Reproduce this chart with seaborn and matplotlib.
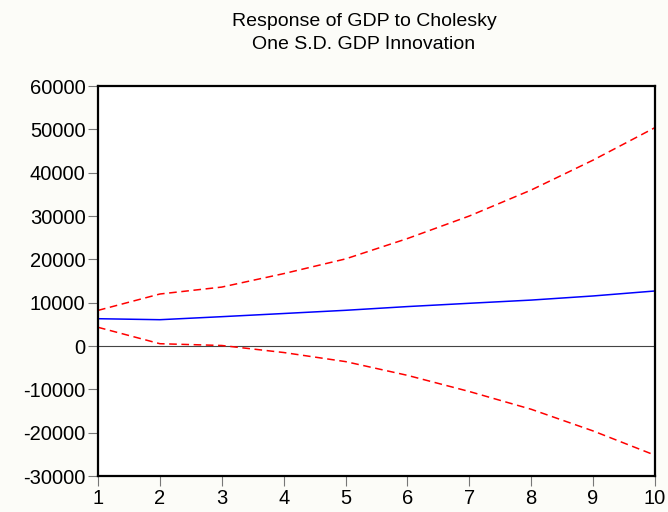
import numpy as np
import pandas as pd
import matplotlib
matplotlib.use("Agg")
import matplotlib.pyplot as plt
import seaborn as sns

# impulse response values
periods = [1, 2, 3, 4, 5, 6, 7, 8, 9, 10]
response = [6300, 6070, 6770, 7500, 8240, 9100, 9860, 10600, 11550, 12700]
upper_band = [8220, 12000, 13600, 16700, 20100, 24800, 30000, 36000, 42900, 50400]
lower_band = [4320, 530, 120, -1500, -3600, -6770, -10500, -14600, -19600, -25200]

y_ticks = [-30000, -20000, -10000, 0, 10000, 20000, 30000, 40000, 50000, 60000]

df = pd.DataFrame({"period": periods, "response": response,
                   "upper": upper_band, "lower": lower_band})

sns.set_style("white")
plt.rcParams["font.family"] = ["Liberation Sans", "DejaVu Sans"]
plt.rcParams["axes.unicode_minus"] = False
plt.rcParams["text.color"] = "black"
plt.rcParams["xtick.color"] = "black"
plt.rcParams["ytick.color"] = "black"

fig = plt.figure(figsize=(6.68, 5.12), dpi=100, facecolor="#fcfcf8")
ax = fig.add_axes([0.1467, 0.0703, 0.8338, 0.7617])
ax.set_facecolor("white")

ax.axhline(0, color="#444444", lw=0.8, zorder=1)
sns.lineplot(data=df, x="period", y="response", ax=ax, color="#0000ff", lw=1.1)
sns.lineplot(data=df, x="period", y="upper", ax=ax, color="#ff0000", lw=1.1,
             linestyle=(0, (5, 3)))
sns.lineplot(data=df, x="period", y="lower", ax=ax, color="#ff0000", lw=1.1,
             linestyle=(0, (5, 3)))

ax.set_xlim(1, 10)
ax.set_ylim(-30000, 60000)
ax.set_xticks(periods)
ax.set_yticks(y_ticks)
ax.set_xlabel("")
ax.set_ylabel("")
ax.tick_params(axis="both", labelsize=14.5, length=7, width=0.8,
               direction="out", left=True, bottom=True, pad=2)
ax.tick_params(axis="both", color="#777777")
for s in ax.spines.values():
    s.set_color("black")
    s.set_linewidth(1.6)

fig.text(0.545, 0.935, "Response of GDP to Cholesky\nOne S.D. GDP Innovation",
         ha="center", va="center", fontsize=14, linespacing=1.45)

fig.savefig("out.png", dpi=100, facecolor=fig.get_facecolor())
